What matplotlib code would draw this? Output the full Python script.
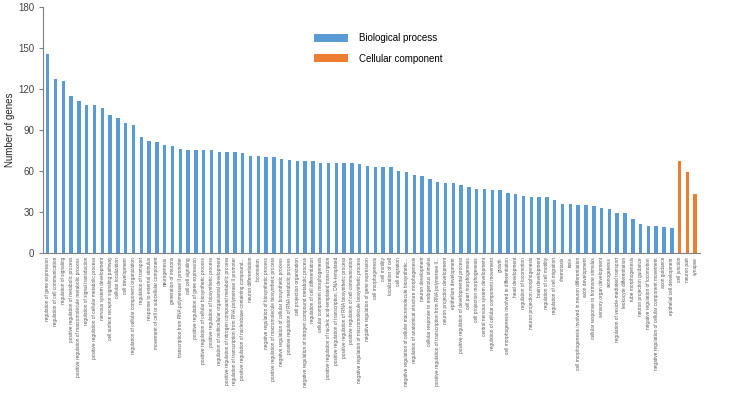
import numpy as np
import matplotlib
matplotlib.use("Agg")
import matplotlib.pyplot as plt

plt.rcParams['font.family'] = ['Liberation Sans', 'DejaVu Sans']

bio_terms = [
    "regulation of gene expression",
    "regulation of cell communication",
    "regulation of signaling",
    "positive regulation of metabolic process",
    "positive regulation of macromolecule metabolic process",
    "regulation of signal transduction",
    "positive regulation of cellular metabolic process",
    "nervous system development",
    "cell surface receptor signaling pathway",
    "cellular localization",
    "cell development",
    "regulation of cellular component organization",
    "regulation of transport",
    "response to external stimulus",
    "movement of cell or subcellular component",
    "neurogenesis",
    "generation of neurons",
    "transcription from RNA polymerase II promoter",
    "cell cell signaling",
    "positive regulation of gene expression",
    "positive regulation of cellular biosynthetic process",
    "positive regulation of biosynthetic process",
    "regulation of multicellular organismal development",
    "positive regulation of nitrogen compound metabolic process",
    "regulation of transcription from RNA polymerase II promoter",
    "positive regulation of nucleobase-containing compound...",
    "neuron differentiation",
    "locomotion",
    "negative regulation of biosynthetic process",
    "positive regulation of macromolecule biosynthetic process",
    "negative regulation of cellular biosynthetic process",
    "positive regulation of RNA metabolic process",
    "cell projection organization",
    "negative regulation of nitrogen compound metabolic process",
    "regulation of cell differentiation",
    "cellular component morphogenesis",
    "positive regulation of nucleic acid-templated transcription",
    "positive regulation of transcription, DNA-templated",
    "positive regulation of RNA biosynthetic process",
    "positive regulation of cell communication",
    "negative regulation of macromolecule biosynthetic process",
    "negative regulation of gene expression",
    "cell morphogenesis",
    "cell motility",
    "localization of cell",
    "cell migration",
    "negative regulation of cellular macromolecule biosynthetic...",
    "regulation of anatomical structure morphogenesis",
    "neuron development",
    "cellular response to endogenous stimulus",
    "positive regulation of transcription from RNA polymerase II...",
    "neuron projection development",
    "epithelium development",
    "positive regulation of developmental process",
    "cell part morphogenesis",
    "cell projection morphogenesis",
    "central nervous system development",
    "regulation of cellular component movement",
    "growth",
    "cell morphogenesis involved in differentiation",
    "head development",
    "regulation of locomotion",
    "neuron projection morphogenesis",
    "brain development",
    "regulation of cell motility",
    "regulation of cell migration",
    "chemotaxis",
    "taxis",
    "cell morphogenesis involved in neuron differentiation",
    "axon development",
    "cellular response to hormone stimulus",
    "sensory organ development",
    "axonogenesis",
    "regulation of vesicle-mediated transport",
    "leukocyte differentiation",
    "tube morphogenesis",
    "neuron projection guidance",
    "negative regulation of locomotion",
    "negative regulation of cellular component movement",
    "axon guidance",
    "epithelial cell development",
]
bio_counts = [146, 127, 126, 115, 111, 108, 108, 106, 101, 99,
              95, 94, 85, 82, 81, 79, 78, 76, 75, 75,
              75, 75, 74, 74, 74, 73, 71, 71, 70, 70,
              69, 68, 67, 67, 67, 66, 66, 66, 66, 66,
              65, 64, 63, 63, 63, 60, 59, 57, 56, 54,
              52, 51, 51, 50, 48, 47, 47, 46, 46, 44,
              43, 42, 41, 41, 41, 39, 36, 36, 35, 35,
              34, 33, 32, 29, 29, 25, 21, 20, 20, 19,
              18]

cc_terms = ["cell junction", "neuron part", "synapse"]
cc_counts = [67, 59, 43]

blue = '#5B9BD5'
orange = '#ED7D31'

fig = plt.figure(figsize=(7.29, 4.16), dpi=100)
ax = fig.add_axes([0.059, 0.392, 0.901, 0.591])

x_bio = np.arange(len(bio_terms))
x_cc = np.arange(len(bio_terms), len(bio_terms) + len(cc_terms))
ax.bar(x_bio, bio_counts, width=0.45, color=blue, label='Biological process')
ax.bar(x_cc, cc_counts, width=0.45, color=orange, label='Cellular component')

ax.set_xlim(-0.6, len(bio_terms) + len(cc_terms) - 0.4)
ax.set_ylim(0, 180)
ax.set_yticks(range(0, 181, 30))
ax.set_xticks(np.concatenate([x_bio, x_cc]))
ax.set_xticklabels(bio_terms + cc_terms, rotation=90, fontsize=3.4, color='#555555')
ax.tick_params(axis='x', length=0, pad=3)
ax.tick_params(axis='y', labelsize=7, length=3, colors='#7f7f7f', labelcolor='#444444')
ax.set_ylabel('Number of genes', fontsize=7, color='#222222', labelpad=2)

for s in ['top', 'right']:
    ax.spines[s].set_visible(False)
ax.spines['left'].set_color('#7f7f7f')
ax.spines['bottom'].set_color('#7f7f7f')
ax.spines['left'].set_linewidth(0.8)
ax.spines['bottom'].set_linewidth(0.8)

ax.legend(loc='upper left', bbox_to_anchor=(0.40, 0.93), frameon=False,
          fontsize=7, handlelength=3.4, handleheight=0.9,
          labelspacing=1.1, handletextpad=1.2)

plt.savefig("out.png", dpi=100)
